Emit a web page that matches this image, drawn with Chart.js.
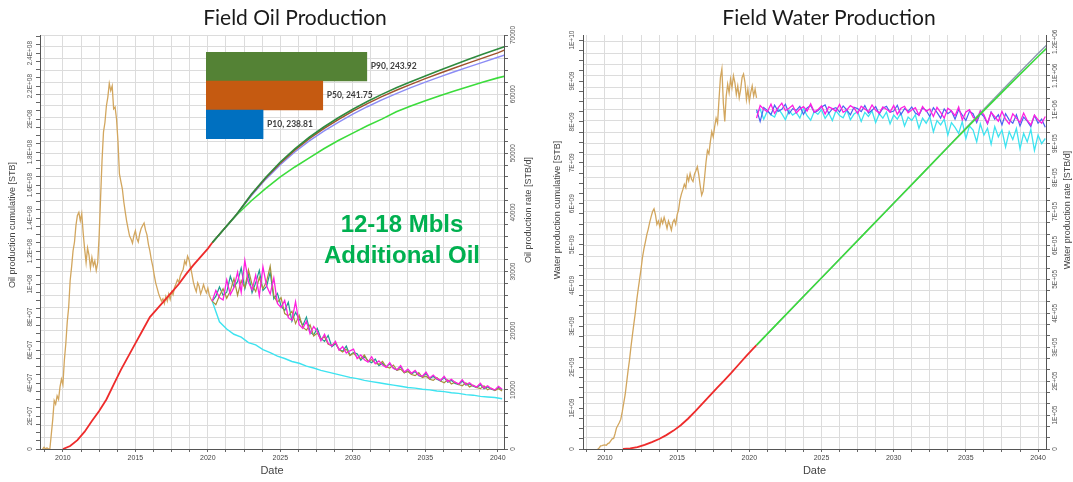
<!DOCTYPE html>
<html>
<head>
<meta charset="utf-8">
<title>Field Oil and Water Production</title>
<script src="https://cdn.jsdelivr.net/npm/chart.js@4.4.0/dist/chart.umd.min.js"></script>
<style>
  html, body { margin: 0; padding: 0; background: #ffffff; }
  #page { position: relative; width: 1073px; height: 482px; overflow: hidden; background: #ffffff; }
  canvas { position: absolute; }
  #oilChart { left: 0; top: 0; }
  #waterChart { left: 528px; top: 0; }
  #pInset { left: 206px; top: 52px; }
  .panel-title { position: absolute; top: 4px; width: 400px; text-align: center;
                 font: 21px Lato, "Open Sans", sans-serif; color: #1a1a1a; }
  #noteOil { position: absolute; left: 302px; top: 208px; width: 200px; text-align: center;
             font: bold 24px "Liberation Sans", Arial, sans-serif; line-height: 31px; color: #00B050; }
</style>
</head>
<body>
<div id="page">
  <canvas id="oilChart" width="545" height="482"></canvas>
  <canvas id="waterChart" width="545" height="482"></canvas>
  <canvas id="pInset" width="214" height="87"></canvas>
  <div class="panel-title" style="left:95px">Field Oil Production</div>
  <div class="panel-title" style="left:629px">Field Water Production</div>
  <div id="noteOil">12-18 Mbls<br>Additional Oil</div>
</div>
<script>
// ---------- shared ----------
const dateLabels = [2010, 2015, 2020, 2025, 2030, 2035, 2040];

// ---------- oil panel ----------
// historical oil rate [STB/d], sampled every 0.1 year from 2008.6
const oilHistStart = 2008.6;
const oilHistRate = [
  0, 300, 0, 200, 0, 0, 2500, 5000, 8200, 7600,
  9000, 8400, 10500, 11800, 10900, 15000, 17800, 21500, 24000, 28500,
  30800, 33500, 35000, 37800, 39500, 40000, 38600, 39800, 36500, 33800,
  31500, 34000, 32800, 30600, 32400, 31000, 31800, 30200, 31500, 36000,
  42500, 48800, 53600, 55200, 58000, 59500, 61800, 60600, 61400, 57500,
  57800, 55800, 52000, 46500, 45200, 44000, 41800, 40100, 38500, 37200,
  36000, 35500, 34800, 36100, 36900, 35600, 35000, 36400, 37300, 37800,
  38200, 37000, 36200, 34600, 33500, 32000, 30900, 29400, 28100, 27200,
  26300, 25600, 25000, 25400, 24600, 25800, 25000, 26200, 25300, 26600,
  26100, 27300, 27900, 28600, 28200, 29300, 29900, 30400, 31800, 31200,
  32600, 32000, 30800, 29600, 28200, 27300, 26600, 28100, 27500, 26200,
  26900, 27800, 27000, 26400, 27200, 26000, 25400, 25000
];

// historical oil cumulative [STB]
const oilCumHistYears = [2010.0, 2010.5, 2011.0, 2011.5, 2012.0, 2012.5, 2013.0, 2013.5, 2014.0, 2014.5, 2015.0,
                         2015.5, 2016.0, 2016.5, 2017.0, 2017.5, 2018.0, 2018.5, 2019.0, 2019.5, 2020.0, 2020.3];
const oilCumHist = [0, 1.8e6, 5.4e6, 1.05e7, 1.7e7, 2.3e7, 3.0e7, 3.9e7, 4.8e7, 5.6e7, 6.4e7,
                    7.2e7, 8.0e7, 8.5e7, 9.0e7, 9.5e7, 1.0e8, 1.06e8, 1.115e8, 1.165e8, 1.215e8, 1.25e8];

// forecast oil cumulative [STB]
const oilCumFcYears = [2020.3, 2021, 2022, 2023, 2024, 2025, 2026, 2027, 2028, 2029, 2030,
                       2031, 2032, 2033, 2034, 2035, 2036, 2037, 2038, 2039, 2040, 2040.45];
const oilCumP90 = [1.25e8, 1.322e8, 1.425e8, 1.545e8, 1.648e8, 1.74e8, 1.82e8, 1.89e8, 1.952e8, 2.008e8, 2.06e8,
                   2.107e8, 2.15e8, 2.19e8, 2.227e8, 2.262e8, 2.296e8, 2.33e8, 2.363e8, 2.395e8, 2.425e8, 2.4392e8];
const oilCumP50 = [1.25e8, 1.322e8, 1.424e8, 1.541e8, 1.643e8, 1.733e8, 1.812e8, 1.881e8, 1.942e8, 1.997e8, 2.048e8,
                   2.094e8, 2.136e8, 2.175e8, 2.211e8, 2.245e8, 2.278e8, 2.31e8, 2.341e8, 2.371e8, 2.402e8, 2.4175e8];
const oilCumP10 = [1.25e8, 1.322e8, 1.423e8, 1.535e8, 1.636e8, 1.724e8, 1.801e8, 1.868e8, 1.927e8, 1.98e8, 2.03e8,
                   2.075e8, 2.116e8, 2.155e8, 2.191e8, 2.224e8, 2.256e8, 2.287e8, 2.317e8, 2.346e8, 2.375e8, 2.3881e8];
const oilCumBase = [1.25e8, 1.322e8, 1.42e8, 1.505e8, 1.58e8, 1.65e8, 1.71e8, 1.765e8, 1.82e8, 1.87e8, 1.915e8,
                    1.96e8, 2.0e8, 2.045e8, 2.08e8, 2.112e8, 2.142e8, 2.17e8, 2.198e8, 2.225e8, 2.25e8, 2.26e8];

// forecast oil rates [STB/d], every 0.25 year from 2020.3
const oilRateFcStart = 2020.3;
const oilRateMagenta = [
  25000, 26800, 25600, 25200, 28600, 26100, 27300, 29900, 26500, 31900,
  28200, 26900, 29400, 25900, 30800, 27600, 26200, 28900, 24600, 23900,
  25100, 22200, 21800, 24900, 21000, 20400, 21600, 19500, 20700, 19900,
  18300, 19400, 17900, 17400, 18200, 16700, 17300, 16200, 16600, 16900,
  15300, 15900, 15100, 14700, 15600, 14400, 14900, 14200, 13800, 14600,
  13600, 13400, 14100, 13000, 13500, 12800, 13300, 12500, 12300, 13000,
  12000, 12500, 11900, 11600, 12300, 11400, 11800, 11300, 11000, 11700,
  10900, 11200, 10700, 10500, 11100, 10300, 10700, 10200, 10000, 10600, 10100
];
const oilRateTeal = [
  25000, 25800, 27400, 26000, 26500, 29200, 27400, 28300, 30600, 27100,
  29500, 26400, 28100, 30200, 26800, 27500, 29900, 25400, 26300, 24200,
  23400, 24800, 21600, 23100, 22000, 20900, 22300, 19800, 19300, 20400,
  18700, 18200, 19200, 17300, 17800, 16900, 16500, 17400, 15900, 16300,
  16100, 15000, 15700, 14900, 14600, 15200, 14100, 14500, 13900, 14400,
  13700, 13300, 13900, 12900, 13200, 12700, 13100, 12400, 12200, 12800,
  11900, 12300, 11800, 11500, 12100, 11300, 11600, 11100, 10900, 11500,
  10800, 11000, 10600, 10400, 10900, 10200, 10500, 10100, 9900, 10400, 10000
];
const oilRateOlive = [
  25000, 24400, 25900, 27100, 25500, 26700, 28800, 26000, 28500, 27300,
  30300, 27800, 26600, 29000, 27100, 28300, 30900, 25900, 24800, 25600,
  22900, 22500, 23300, 21200, 22600, 20600, 20100, 21000, 19100, 19600,
  18500, 19000, 17700, 17500, 18000, 16800, 16400, 16900, 15800, 16200,
  15500, 15300, 15900, 14800, 15100, 14500, 14300, 14800, 13900, 13700,
  14200, 13300, 13500, 12900, 13100, 12600, 12400, 12900, 12100, 12300,
  11800, 11600, 12100, 11500, 11200, 11700, 11000, 11300, 10900, 10700,
  11200, 10500, 10800, 10400, 10200, 10700, 10000, 10300, 9900, 10200, 9800
];
// lower-case forecast rate [STB/d], every 0.5 year from 2020.3
const oilRateCyanStart = 2020.3;
const oilRateCyan = [
  25000, 21500, 20300, 19400, 18900, 18000, 17600, 16800, 16300, 15700,
  15300, 14800, 14500, 14000, 13700, 13300, 13000, 12700, 12400, 12100,
  11900, 11600, 11400, 11200, 11000, 10800, 10600, 10400, 10300, 10100,
  10000, 9800, 9700, 9500, 9400, 9200, 9100, 8900, 8800, 8700, 8500
];

// ultimate recovery per case [MMSTB]
const pCaseLabels = ['P90', 'P50', 'P10'];
const pCaseValues = [243.92, 241.75, 238.81];
const pCaseColors = ['#548235', '#C55A11', '#0070C0'];

// ---------- water panel ----------
// historical water rate [STB/d], every 0.1 year from 2009.5
const waterHistStart = 2009.5;
const waterHistRate = [
  0, 3000, 9000, 10000, 11500, 12000, 11000, 16000, 18000, 24000,
  30000, 31000, 45000, 62000, 70000, 78000, 88000, 110000, 135000, 160000,
  195000, 230000, 262000, 300000, 335000, 368000, 400000, 438000, 470000, 500000,
  530000, 565000, 590000, 610000, 632000, 648000, 668000, 685000, 700000, 708000,
  690000, 662000, 672000, 655000, 678000, 665000, 683000, 668000, 650000, 672000,
  660000, 645000, 668000, 676000, 662000, 690000, 705000, 735000, 752000, 765000,
  780000, 770000, 805000, 790000, 812000, 795000, 788000, 810000, 820000, 832000,
  808000, 775000, 748000, 760000, 800000, 845000, 880000, 870000, 905000, 935000,
  920000, 950000, 975000, 960000, 1030000, 1095000, 1120000, 1020000, 965000, 1040000,
  1075000, 1050000, 1090000, 1065000, 1100000, 1080000, 1045000, 1070000, 1035000, 1060000,
  1095000, 1105000, 1080000, 1030000, 1060000, 1025000, 1050000, 1070000, 1040000, 1060000,
  1035000
];

// historical water cumulative [STB]
const waterCumHistYears = [2011.25, 2011.75, 2012.25, 2012.75, 2013.25, 2013.75, 2014.25, 2014.75, 2015.25, 2015.75,
                           2016.25, 2016.75, 2017.25, 2017.75, 2018.25, 2018.75, 2019.25, 2019.75, 2020.25, 2020.5];
const waterCumHist = [0, 1.5e7, 4.5e7, 1.0e8, 1.7e8, 2.45e8, 3.4e8, 4.5e8, 5.8e8, 7.4e8,
                      9.2e8, 1.11e9, 1.30e9, 1.49e9, 1.67e9, 1.86e9, 2.06e9, 2.26e9, 2.45e9, 2.54e9];

// forecast water cumulative [STB]
const waterCumFcYears = [2020.5, 2022, 2024, 2026, 2028, 2030, 2032, 2034, 2036, 2038, 2040, 2040.6];
const waterCumBase = [2.54e9, 3.09e9, 3.82e9, 4.55e9, 5.28e9, 6.01e9, 6.74e9, 7.47e9, 8.19e9, 8.9e9, 9.6e9, 9.8e9];
const waterCumHigh = [2.54e9, 3.09e9, 3.82e9, 4.55e9, 5.28e9, 6.01e9, 6.74e9, 7.48e9, 8.22e9, 8.95e9, 9.67e9, 9.88e9];

// forecast water rates [STB/d], every 0.25 year from 2020.5
const waterRateFcStart = 2020.5;
const waterRateMagenta = [
  975000, 1012000, 1001000, 994000, 1016000, 989000, 1006000, 1019000, 997000, 1004000,
  1013000, 990000, 1002000, 1009000, 996000, 1017000, 993000, 1000000, 1011000, 987000,
  1008000, 1003000, 995000, 1015000, 992000, 999000, 1012000, 1005000, 989000, 1010000,
  1002000, 994000, 1014000, 998000, 990000, 1008000, 1001000, 993000, 1012000, 986000,
  1004000, 1010000, 991000, 999000, 1006000, 984000, 1009000, 995000, 1002000, 980000,
  1007000, 992000, 975000, 1004000, 996000, 982000, 1008000, 970000, 993000, 1000000,
  978000, 968000, 997000, 985000, 960000, 992000, 979000, 966000, 995000, 972000,
  958000, 988000, 975000, 962000, 990000, 968000, 955000, 984000, 970000, 960000, 980000
];
const waterRateBlue = [
  1000000, 965000, 1006000, 998000, 985000, 1013000, 995000, 1001000, 1016000, 988000,
  1003000, 998000, 1010000, 986000, 1005000, 1012000, 992000, 997000, 1008000, 1014000,
  989000, 1002000, 1006000, 993000, 1011000, 999000, 985000, 1007000, 1003000, 994000,
  1012000, 990000, 998000, 1009000, 987000, 1004000, 1010000, 992000, 996000, 1013000,
  985000, 1003000, 995000, 1008000, 990000, 984000, 1005000, 998000, 980000, 1006000,
  992000, 975000, 1002000, 988000, 996000, 972000, 1000000, 984000, 968000, 995000,
  988000, 962000, 990000, 980000, 958000, 993000, 972000, 985000, 955000, 988000,
  970000, 960000, 985000, 952000, 978000, 966000, 950000, 983000, 960000, 972000, 948000
];
const waterRateCyan = [
  990000, 1002000, 972000, 996000, 985000, 978000, 1003000, 988000, 970000, 998000,
  984000, 992000, 975000, 1004000, 982000, 969000, 995000, 986000, 1000000, 974000,
  990000, 968000, 997000, 983000, 976000, 999000, 970000, 987000, 994000, 965000,
  992000, 980000, 996000, 962000, 988000, 975000, 993000, 958000, 984000, 972000,
  990000, 952000, 978000, 968000, 985000, 945000, 975000, 960000, 980000, 935000,
  968000, 955000, 972000, 925000, 962000, 948000, 930000, 965000, 915000, 952000,
  940000, 905000, 958000, 925000, 945000, 898000, 950000, 920000, 940000, 890000,
  935000, 912000, 945000, 885000, 930000, 905000, 942000, 880000, 925000, 900000, 915000
];

// ---------- helpers ----------
const FONT = '"Liberation Sans", Arial, sans-serif';
const pairs = (xs, ys) => ys.map((y, i) => ({ x: xs[i], y }));
const sampled = (start, step, ys) => ys.map((y, i) => ({ x: +(start + step * i).toFixed(3), y }));

function fmtE(v) {
  if (v === 0) return '0';
  const e = Math.floor(Math.log10(v) + 1e-9);
  const m = +(v / Math.pow(10, e)).toFixed(2);
  return m + 'E+' + String(e).padStart(2, '0');
}

function dateAxis(min, max) {
  return {
    type: 'linear', position: 'bottom', min, max,
    afterBuildTicks: s => {
      const t = [];
      for (let v = 2008.75; v <= max + 1e-9; v += 1.25) if (v >= min) t.push({ value: v });
      s.ticks = t;
    },
    afterFit: s => { s.height = 33; },
    grid: { color: '#DCDCDC', lineWidth: 1, tickLength: 3, tickColor: '#666' },
    border: { color: '#555', width: 1 },
    ticks: {
      autoSkip: false, maxRotation: 0, minRotation: 0, padding: 2, color: '#444',
      font: { family: FONT, size: 7 },
      callback: v => dateLabels.includes(v) ? String(v) : ''
    },
    title: { display: true, text: 'Date', color: '#444', font: { family: FONT, size: 11 },
             padding: { top: 0, bottom: 4 } }
  };
}

function valueAxis(position, max, step, width, showGrid) {
  return {
    type: 'linear', position, min: 0, max,
    afterBuildTicks: s => {
      const t = [];
      for (let k = 0; k * step <= max + 1e-6; k++) t.push({ value: k * step });
      s.ticks = t;
    },
    afterFit: s => { s.width = width; },
    grid: { drawOnChartArea: showGrid, color: '#DCDCDC', tickLength: 4, tickColor: '#666' },
    border: { color: '#555', width: 1 },
    ticks: { display: false }
  };
}

// rotated tick labels and titles for the value axes (read bottom to top)
const valueAxisText = {
  oilChart: {
    yCum:  { major: 2e7,  fmt: fmtE, x: 30,  title: 'Oil production cumulative [STB]', titleX: 13, titleY: 225 },
    yRate: { major: 1e4,  fmt: v => String(Math.round(v)), x: 513, title: 'Oil production rate [STB/d]', titleX: 529, titleY: 210 }
  },
  waterChart: {
    yCum:  { major: 1e9,  fmt: fmtE, x: 44,  title: 'Water production cumulative [STB]', titleX: 30, titleY: 210 },
    yRate: { major: 1e5,  fmt: fmtE, x: 527, title: 'Water production rate [STB/d]', titleX: 540, titleY: 210 }
  }
};

const rotatedAxisText = {
  id: 'rotatedAxisText',
  afterDraw(chart) {
    const spec = valueAxisText[chart.canvas.id];
    if (!spec) return;
    const ctx = chart.ctx;
    for (const id of Object.keys(spec)) {
      const s = spec[id];
      const scale = chart.scales[id];
      ctx.save();
      ctx.textAlign = 'center';
      ctx.textBaseline = 'middle';
      ctx.fillStyle = '#555';
      ctx.font = '6.5px ' + FONT;
      for (const t of scale.ticks) {
        const q = t.value / s.major;
        if (Math.abs(q - Math.round(q)) > 1e-6) continue;
        const y = scale.getPixelForValue(t.value);
        ctx.save();
        ctx.translate(s.x, y);
        ctx.rotate(-Math.PI / 2);
        ctx.fillText(s.fmt(Math.round(q) * s.major), 0, 0);
        ctx.restore();
      }
      ctx.fillStyle = '#444';
      ctx.font = '9px ' + FONT;
      ctx.translate(s.titleX, s.titleY);
      ctx.rotate(-Math.PI / 2);
      ctx.fillText(s.title, 0, 0);
      ctx.restore();
    }
  }
};

const line = (label, data, color, yAxisID, width) => ({
  label, data, yAxisID, borderColor: color, backgroundColor: color,
  borderWidth: width, pointRadius: 0, fill: false, tension: 0
});

const baseOptions = (scales) => ({
  responsive: false, animation: false, events: [],
  layout: { padding: { top: 35, left: 0, right: 0, bottom: 0 } },
  plugins: { legend: { display: false }, tooltip: { enabled: false } },
  scales
});

// ---------- oil chart ----------
new Chart(document.getElementById('oilChart'), {
  type: 'line',
  data: {
    datasets: [
      line('Cumulative history', pairs(oilCumHistYears, oilCumHist), '#EE2B2B', 'yCum', 1.8),
      line('Cumulative P90', pairs(oilCumFcYears, oilCumP90), '#2E8B3E', 'yCum', 1.6),
      line('Cumulative P50', pairs(oilCumFcYears, oilCumP50), '#A0522D', 'yCum', 1.4),
      line('Cumulative P10', pairs(oilCumFcYears, oilCumP10), '#8C8CF5', 'yCum', 1.4),
      line('Cumulative base', pairs(oilCumFcYears, oilCumBase), '#3CDC3C', 'yCum', 1.6),
      line('Rate magenta', sampled(oilRateFcStart, 0.25, oilRateMagenta), '#FF1FE0', 'yRate', 1.3),
      line('Rate olive', sampled(oilRateFcStart, 0.25, oilRateOlive), '#A8913C', 'yRate', 1.2),
      line('Rate teal', sampled(oilRateFcStart, 0.25, oilRateTeal), '#1F9E92', 'yRate', 1.2),
      line('Rate low', sampled(oilRateCyanStart, 0.5, oilRateCyan), '#3EE3F0', 'yRate', 1.4),
      line('Rate history', sampled(oilHistStart, 0.1, oilHistRate), '#D2A65E', 'yRate', 1.3)
    ]
  },
  options: baseOptions({
    x: dateAxis(2008.42, 2040.43),
    yCum: valueAxis('left', 2.51e8, 5e6, 40, false),
    yRate: valueAxis('right', 70000, 2000, 41, true)
  }),
  plugins: [rotatedAxisText]
});

// ---------- water chart ----------
new Chart(document.getElementById('waterChart'), {
  type: 'line',
  data: {
    datasets: [
      line('Cumulative base', pairs(waterCumFcYears, waterCumBase), '#3CDC3C', 'yCum', 1.6),
      line('Cumulative high', pairs(waterCumFcYears, waterCumHigh), '#8A9AAE', 'yCum', 1.4),
      line('Cumulative history', pairs(waterCumHistYears, waterCumHist), '#EE2B2B', 'yCum', 1.8),
      line('Rate magenta', sampled(waterRateFcStart, 0.25, waterRateMagenta), '#FF1FE0', 'yRate', 1.3),
      line('Rate blue', sampled(waterRateFcStart, 0.25, waterRateBlue), '#4A63F0', 'yRate', 1.2),
      line('Rate cyan', sampled(waterRateFcStart, 0.25, waterRateCyan), '#3EE3F0', 'yRate', 1.3),
      line('Rate history', sampled(waterHistStart, 0.1, waterHistRate), '#D2A65E', 'yRate', 1.3)
    ]
  },
  options: baseOptions({
    x: dateAxis(2008.48, 2040.55),
    yCum: valueAxis('left', 1.0125e10, 2.5e8, 55, false),
    yRate: valueAxis('right', 1.22e6, 1e5 / 3, 27, true)
  }),
  plugins: [rotatedAxisText]
});

// ---------- ultimate recovery inset ----------
const barValueLabels = {
  id: 'barValueLabels',
  afterDatasetsDraw(chart) {
    const ctx = chart.ctx;
    const meta = chart.getDatasetMeta(0);
    const values = chart.data.datasets[0].data;
    ctx.save();
    ctx.font = 'bold 8.5px Lato, "Open Sans", sans-serif';
    ctx.fillStyle = '#404040';
    ctx.textBaseline = 'middle';
    meta.data.forEach((bar, i) => {
      ctx.fillText(chart.data.labels[i] + ', ' + values[i].toFixed(2), bar.x + 4, bar.y);
    });
    ctx.restore();
  }
};

new Chart(document.getElementById('pInset'), {
  type: 'bar',
  data: {
    labels: pCaseLabels,
    datasets: [{ data: pCaseValues, backgroundColor: pCaseColors, borderWidth: 0,
                 barPercentage: 1, categoryPercentage: 1 }]
  },
  options: {
    indexAxis: 'y', responsive: false, animation: false, events: [],
    layout: { padding: 0 },
    plugins: { legend: { display: false }, tooltip: { enabled: false } },
    scales: {
      x: { type: 'linear', min: 236, max: 246.54, display: false },
      y: { display: false }
    }
  },
  plugins: [barValueLabels]
});
</script>
</body>
</html>
